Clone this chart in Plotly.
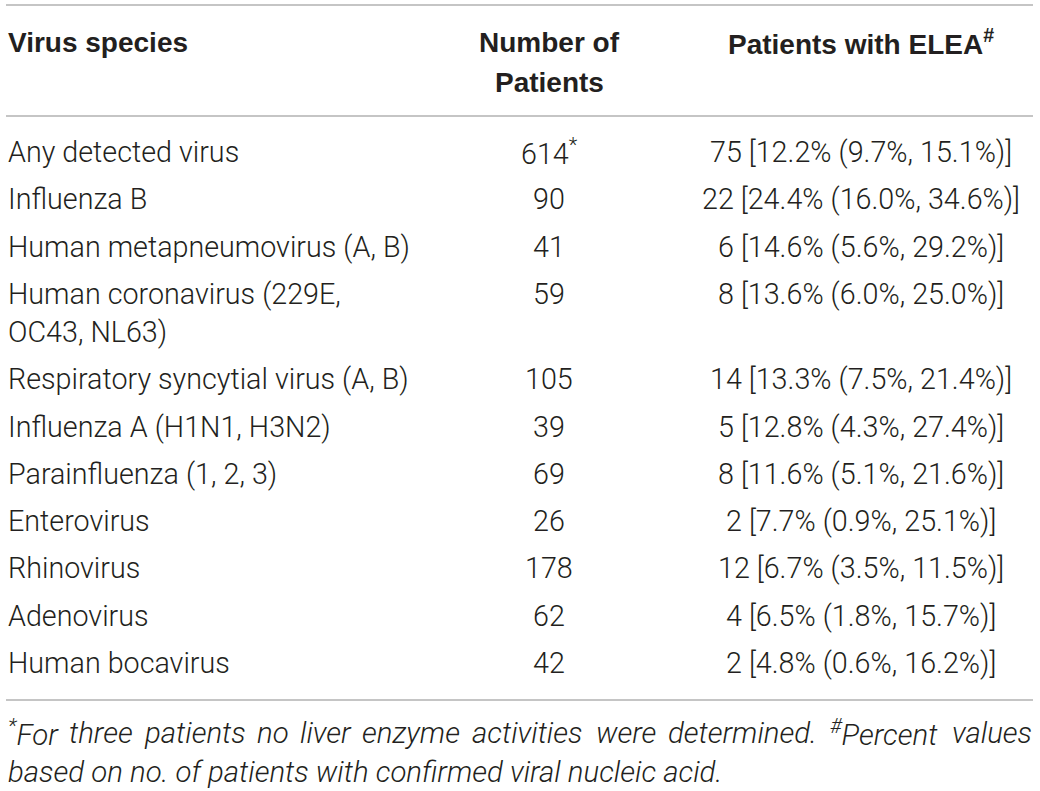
import plotly.graph_objects as go

# table content
header = ["Virus species", "Number of<br>Patients", "Patients with ELEA<sup>#</sup>"]

species = [
    "Any detected virus",
    "Influenza B",
    "Human metapneumovirus (A, B)",
    "Human coronavirus (229E,<br>OC43, NL63)",
    "Respiratory syncytial virus (A, B)",
    "Influenza A (H1N1, H3N2)",
    "Parainfluenza (1, 2, 3)",
    "Enterovirus",
    "Rhinovirus",
    "Adenovirus",
    "Human bocavirus",
]
n_patients = [614, 90, 41, 59, 105, 39, 69, 26, 178, 62, 42]
n_marks = ["*", "", "", "", "", "", "", "", "", "", ""]
n_elea = [75, 22, 6, 8, 14, 5, 8, 2, 12, 4, 2]
pct = [12.2, 24.4, 14.6, 13.6, 13.3, 12.8, 11.6, 7.7, 6.7, 6.5, 4.8]
ci_low = [9.7, 16.0, 5.6, 6.0, 7.5, 4.3, 5.1, 0.9, 3.5, 1.8, 0.6]
ci_high = [15.1, 34.6, 29.2, 25.0, 21.4, 27.4, 21.6, 25.1, 11.5, 15.7, 16.2]

footnote_1 = "*For three patients no liver enzyme activities were determined. #Percent values"
footnote_2 = "based on no. of patients with confirmed viral nucleic acid."

HEAD_FONT = dict(family="Liberation Sans", size=28, weight=700)
BODY_FONT = dict(family="Roboto", size=28.7, weight=300)
FOOT_FONT = dict(family="Roboto", size=29.4, weight=300, style="italic")
INK = "#231f20"
RULE = "#8c8c8c"

W, H = 1040, 791
X_LEFT, X_RIGHT = 6, 1033
COL_X = [7, 549, 861]
COL_ANCHOR = ["left", "center", "center"]

# rough Roboto advance widths (em) used to justify the first footnote line
ADV = {"*": .421, "#": .602, ".": .257, " ": .248, "F": .547, "P": .631,
       "a": .531, "c": .512, "d": .551, "e": .517, "h": .539, "i": .237,
       "l": .237, "m": .855, "n": .539, "o": .557, "p": .548, "r": .332,
       "s": .504, "t": .319, "u": .538, "v": .473, "w": .733, "y": .462,
       "z": .495}


def word_width(word):
    w = 0
    for k, ch in enumerate(word):
        f = 0.7 if (k == 0 and ch in "*#") else 1.0
        w += ADV.get(ch, .55) * f
    return w * FOOT_FONT["size"]


def sup_first(word):
    if word[0] in "*#":
        return "<sup>" + word[0] + "</sup>" + word[1:]
    return word


fig = go.Figure()
annotations = []


def add_text(x, y, text, anchor, font):
    annotations.append(dict(
        x=x, y=y, xref="x", yref="y", text=text, showarrow=False,
        xanchor=anchor, yanchor="middle", borderpad=0,
        font=dict(color=INK, **font),
    ))


# header
HEAD_Y = 42
HEAD_PITCH = 40
for col, label in enumerate(header):
    for k, part in enumerate(label.split("<br>")):
        add_text(COL_X[col], HEAD_Y + k * HEAD_PITCH, part, COL_ANCHOR[col], HEAD_FONT)

# body rows
ROW_Y0 = 152
ROW_PITCH = 47.3
LINE_PITCH = 38
y = ROW_Y0
for i, name in enumerate(species):
    parts = name.split("<br>")
    for k, part in enumerate(parts):
        add_text(COL_X[0], y + k * LINE_PITCH, part, "left", BODY_FONT)
    n_txt = str(n_patients[i]) + ("<sup>" + n_marks[i] + "</sup>" if n_marks[i] else "")
    add_text(COL_X[1], y, n_txt, "center", BODY_FONT)
    e_txt = f"{n_elea[i]} [{pct[i]:.1f}% ({ci_low[i]:.1f}%, {ci_high[i]:.1f}%)]"
    add_text(COL_X[2], y, e_txt, "center", BODY_FONT)
    y += ROW_PITCH + (len(parts) - 1) * LINE_PITCH

# footnote: first line justified (last word pinned right), second line left
FOOT_Y = [733, 772]
words = footnote_1.split(" ")
widths = [word_width(w) for w in words]
gap = (X_RIGHT - 7 - sum(widths)) / (len(words) - 1)
x = 7
for w, ww in zip(words[:-1], widths[:-1]):
    add_text(x, FOOT_Y[0], sup_first(w), "left", FOOT_FONT)
    x += ww + gap
add_text(X_RIGHT, FOOT_Y[0], words[-1], "right", FOOT_FONT)
add_text(7, FOOT_Y[1], footnote_2, "left", FOOT_FONT)

# horizontal rules
shapes = []
for ry in [5, 116, 700]:
    shapes.append(dict(type="line", xref="x", yref="y", x0=X_LEFT, x1=X_RIGHT,
                       y0=ry, y1=ry, line=dict(color=RULE, width=1.2)))

fig.update_layout(
    width=W, height=H,
    margin=dict(l=0, r=0, t=0, b=0),
    paper_bgcolor="white", plot_bgcolor="white",
    xaxis=dict(range=[0, W], visible=False, fixedrange=True),
    yaxis=dict(range=[H, 0], visible=False, fixedrange=True),
    annotations=annotations,
    shapes=shapes,
    showlegend=False,
)

# drop the default page margin so the figure sits at the window corner
fig.write_html("out.html", config={"displayModeBar": False},
               post_script="document.body.style.margin='0px';")
